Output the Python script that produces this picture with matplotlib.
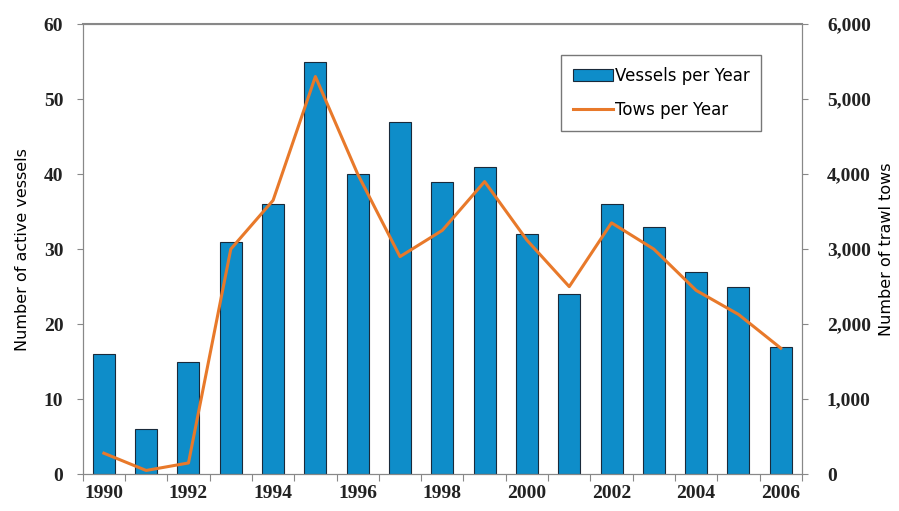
import matplotlib.pyplot as plt
import numpy as np

years = [1990, 1991, 1992, 1993, 1994, 1995, 1996, 1997, 1998,
         1999, 2000, 2001, 2002, 2003, 2004, 2005, 2006]
vessels = [16, 6, 15, 31, 36, 55, 40, 47, 39, 41, 32, 24, 36, 33, 27, 25, 17]
tows = [280, 50, 150, 3000, 3650, 5300, 4000, 2900, 3250,
        3900, 3120, 2500, 3350, 3000, 2450, 2130, 1680]

tick_font = dict(family="Liberation Serif", weight="bold", size=14, color="#222222")

fig = plt.figure(figsize=(8.99, 5.11), dpi=100)
ax = fig.add_axes([0.092, 0.072, 0.8, 0.881])
x = np.arange(len(years))

ax.bar(x, vessels, width=0.52, color="#0E8DC9", edgecolor="#1a2a3a", linewidth=0.8,
       label="Vessels per Year", zorder=2)
ax.set_xlim(-0.5, len(years) - 0.5)
ax.set_ylim(0, 60)
ax.set_yticks(range(0, 61, 10))
ax.set_yticklabels([str(v) for v in range(0, 61, 10)], fontdict=tick_font)
ax.set_ylabel("Number of active vessels", fontsize=11.5, family="DejaVu Sans", labelpad=10)

# boundary ticks without labels, year labels every other category
ax.set_xticks(np.arange(-0.5, len(years), 1.0))
ax.set_xticklabels([])
ax.tick_params(axis="x", which="major", length=5, direction="out", color="#888888")
ax.set_xticks(x[::2], minor=True)
ax.set_xticklabels([str(y) for y in years[::2]], minor=True, fontdict=tick_font)
ax.tick_params(axis="x", which="minor", length=0, pad=8)
ax.tick_params(axis="y", length=4, color="#888888", pad=10)

ax2 = ax.twinx()
ax2.plot(x, tows, color="#E8792A", linewidth=2.2, label="Tows per Year", zorder=3)
ax2.set_ylim(0, 6000)
ax2.set_yticks(range(0, 6001, 1000))
ax2.set_yticklabels(["0" if v == 0 else f"{v:,}" for v in range(0, 6001, 1000)],
                    fontdict=tick_font)
ax2.tick_params(axis="y", length=4, color="#888888", pad=14)
ax2.set_ylabel("Number of trawl tows", fontsize=11.5, family="DejaVu Sans", labelpad=6)

for a in (ax, ax2):
    for s in a.spines.values():
        s.set_color("#888888")
ax.spines["top"].set_linewidth(1.5)

h1, l1 = ax.get_legend_handles_labels()
h2, l2 = ax2.get_legend_handles_labels()
leg = ax2.legend(h1 + h2, l1 + l2, loc="upper right", bbox_to_anchor=(0.955, 0.95),
                 fancybox=False, edgecolor="#555555", fontsize=12,
                 handlelength=2.4, handletextpad=0.1, borderpad=0.7, labelspacing=1.0)
leg.get_frame().set_linewidth(1.0)

fig.savefig("out.png", dpi=100)
